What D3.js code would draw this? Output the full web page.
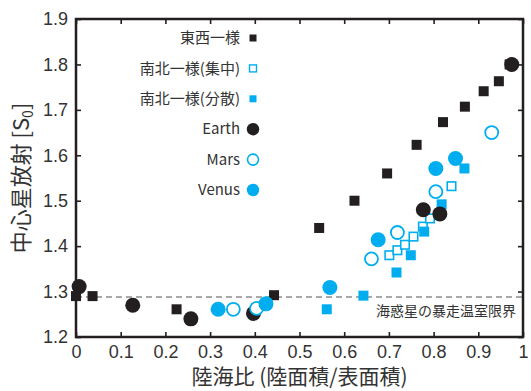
<!DOCTYPE html>
<html lang="ja">
<head>
<meta charset="UTF-8"/>
<title>陸海比と中心星放射</title>
<script src="https://cdn.jsdelivr.net/npm/d3@7/dist/d3.min.js"></script>
<style>
  * { margin: 0; padding: 0; }
  body { background: #fff; width: 531px; height: 391px; overflow: hidden; }
  svg { display: block; font-family: "Noto Sans CJK JP", "Noto Sans", sans-serif; }
</style>
</head>
<body>
<svg id="chart" width="531" height="391"></svg>
<script>
// --- data: [land fraction, stellar flux S0] ---
const ewUniform = [ // 東西一様
  [0.00, 1.290], [0.037, 1.290], [0.225, 1.261], [0.443, 1.292], [0.544, 1.440],
  [0.623, 1.500], [0.696, 1.560], [0.762, 1.623], [0.821, 1.673], [0.870, 1.707],
  [0.912, 1.741], [0.946, 1.763], [0.970, 1.800]
]
const nsConcentrated = [ // 南北一様(集中)
  [0.701, 1.380], [0.719, 1.391], [0.736, 1.403], [0.755, 1.421],
  [0.776, 1.443], [0.792, 1.461], [0.840, 1.532]
]
const nsDispersed = [ // 南北一様(分散)
  [0.561, 1.261], [0.643, 1.291], [0.717, 1.342], [0.749, 1.380],
  [0.779, 1.432], [0.818, 1.492], [0.869, 1.571]
]
const earth = [
  [0.007, 1.311], [0.127, 1.270], [0.257, 1.240], [0.397, 1.252],
  [0.777, 1.480], [0.814, 1.471], [0.975, 1.800]
]
const mars = [
  [0.352, 1.261], [0.404, 1.263], [0.661, 1.372], [0.719, 1.430],
  [0.805, 1.520], [0.930, 1.650]
]
const venus = [
  [0.318, 1.261], [0.425, 1.273], [0.568, 1.309], [0.676, 1.414],
  [0.805, 1.571], [0.849, 1.593]
]
const runawayLimit = 1.288
const xTicks = [0, 0.1, 0.2, 0.3, 0.4, 0.5, 0.6, 0.7, 0.8, 0.9, 1]
const yTicks = [1.2, 1.3, 1.4, 1.5, 1.6, 1.7, 1.8, 1.9]

const BLACK = '#231f20'
const BLUE  = '#00aeef'

const svg = d3.select('#chart')
const m = { left: 76, right: 8, top: 19, bottom: 54 }
const W = 531, H = 391

const x = d3.scaleLinear().domain([0, 1]).range([m.left, W - m.right])
const y = d3.scaleLinear().domain([1.2, 1.9]).range([H - m.bottom, m.top])

// dashed runaway greenhouse limit
svg.append('line')
  .attr('x1', x(0)).attr('x2', x(1))
  .attr('y1', y(runawayLimit)).attr('y2', y(runawayLimit))
  .attr('stroke', '#555').attr('stroke-width', 1.2).attr('stroke-dasharray', '6,4')

svg.append('text')
  .attr('x', x(1) - 7).attr('y', y(runawayLimit) + 19)
  .attr('text-anchor', 'end').attr('font-size', 14).attr('fill', '#333')
  .text('海惑星の暴走温室限界')

// --- markers ---
const sq = (g, data, size, fill, stroke) => g.selectAll(null).data(data).join('rect')
  .attr('x', d => x(d[0]) - size / 2).attr('y', d => y(d[1]) - size / 2)
  .attr('width', size).attr('height', size)
  .attr('fill', fill).attr('stroke', stroke ?? 'none').attr('stroke-width', 1.6)

const circ = (g, data, r, fill, stroke) => g.selectAll(null).data(data).join('circle')
  .attr('cx', d => x(d[0])).attr('cy', d => y(d[1])).attr('r', r)
  .attr('fill', fill).attr('stroke', stroke ?? 'none').attr('stroke-width', 1.8)

const marks = svg.append('g')
sq(marks.append('g'), ewUniform, 10, BLACK)
sq(marks.append('g'), nsConcentrated, 8.5, '#fff', BLUE)
sq(marks.append('g'), nsDispersed, 10, BLUE)
circ(marks.append('g'), earth, 7.5, BLACK)
circ(marks.append('g'), mars, 6.5, '#fff', BLUE)
circ(marks.append('g'), venus, 7.5, BLUE)

// --- frame and inward ticks ---
const axisG = svg.append('g').attr('fill', BLACK)

axisG.append('g').attr('transform', `translate(0,${y(1.2)})`)
  .call(d3.axisBottom(x).tickValues(xTicks).tickSizeInner(-5).tickSizeOuter(0).tickPadding(8)
    .tickFormat(d => d === 0 || d === 1 ? d3.format('d')(d) : d3.format('.1f')(d)))
axisG.append('g').attr('transform', `translate(0,${y(1.9)})`)
  .call(d3.axisTop(x).tickValues(xTicks).tickSizeInner(-5).tickSizeOuter(0).tickFormat(''))
axisG.append('g').attr('transform', `translate(${x(0)},0)`)
  .call(d3.axisLeft(y).tickValues(yTicks).tickSizeInner(-5).tickSizeOuter(0).tickPadding(8)
    .tickFormat(d3.format('.1f')))
axisG.append('g').attr('transform', `translate(${x(1)},0)`)
  .call(d3.axisRight(y).tickValues(yTicks).tickSizeInner(-5).tickSizeOuter(0).tickFormat(''))

axisG.selectAll('.domain').remove()
axisG.selectAll('.tick line').attr('stroke', BLACK).attr('stroke-width', 1.6)
axisG.selectAll('.tick text')
  .attr('fill', '#333')
  .attr('font-family', '"Liberation Sans", sans-serif')
  .attr('font-size', 18)

svg.append('rect')
  .attr('x', x(0)).attr('y', y(1.9))
  .attr('width', x(1) - x(0)).attr('height', y(1.2) - y(1.9))
  .attr('fill', 'none').attr('stroke', BLACK).attr('stroke-width', 2.5)

// --- axis titles ---
svg.append('text')
  .attr('x', (x(0) + x(1)) / 2).attr('y', 384)
  .attr('text-anchor', 'middle').attr('font-size', 21).attr('fill', '#333')
  .text('陸海比 (陸面積/表面積)')

const yt = svg.append('text')
  .attr('transform', `translate(29,${(y(1.2) + y(1.9)) / 2}) rotate(-90)`)
  .attr('text-anchor', 'middle').attr('font-size', 22).attr('fill', '#333')
yt.append('tspan').text('中心星放射 [S')
yt.append('tspan').attr('font-size', 14).attr('dy', 4).text('0')
yt.append('tspan').attr('dy', -4).text(']')

// --- legend ---
const legendItems = [
  { label: '東西一様', shape: 'sq', fill: BLACK },
  { label: '南北一様(集中)', shape: 'sq', fill: '#fff', stroke: BLUE },
  { label: '南北一様(分散)', shape: 'sq', fill: BLUE },
  { label: 'Earth', shape: 'c', fill: BLACK },
  { label: 'Mars', shape: 'c', fill: '#fff', stroke: BLUE },
  { label: 'Venus', shape: 'c', fill: BLUE }
]
const lg = svg.append('g').selectAll('g').data(legendItems).join('g')
  .attr('transform', (d, i) => `translate(253,${38 + i * 30.4})`)
lg.append('text')
  .attr('x', -13).attr('dy', '0.35em').attr('text-anchor', 'end')
  .attr('font-size', 15).attr('fill', '#333').text(d => d.label)
lg.filter(d => d.shape === 'sq').append('rect')
  .attr('x', -3.5).attr('y', -3.5).attr('width', 7).attr('height', 7)
  .attr('fill', d => d.fill).attr('stroke', d => d.stroke ?? 'none').attr('stroke-width', 1.4)
lg.filter(d => d.shape === 'c').append('circle')
  .attr('r', d => d.stroke ? 5.5 : 6.2)
  .attr('fill', d => d.fill).attr('stroke', d => d.stroke ?? 'none').attr('stroke-width', 1.6)
</script>
</body>
</html>
